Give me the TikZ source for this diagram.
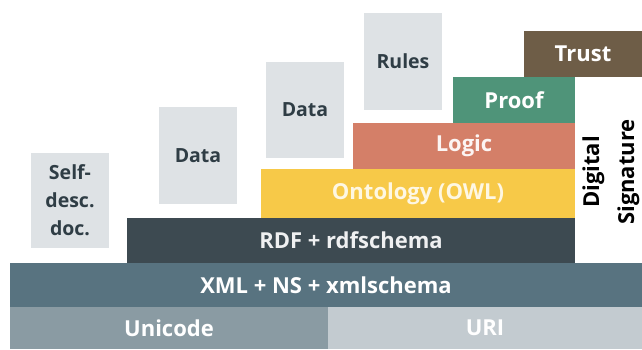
\documentclass[tikz,border=0pt]{standalone}
\usepackage{fontspec}
\setmainfont{Open Sans}
\begin{document}
\begin{tikzpicture}[x=1pt,y=-1pt,
  layer/.style={anchor=north west,inner sep=0pt,outer sep=0pt,text=white,font=\bfseries\fontsize{22}{24}\selectfont},
  graybox/.style={anchor=north west,inner sep=0pt,outer sep=0pt,fill=grayfill,text=darktext,align=center,font=\bfseries\fontsize{19.5}{28}\selectfont}]
\definecolor{grayfill}{HTML}{DEE2E5}
\definecolor{darktext}{HTML}{2F3D45}
\definecolor{unicodec}{HTML}{8A9BA3}
\definecolor{uric}{HTML}{C3CBD0}
\definecolor{xmlc}{HTML}{587380}
\definecolor{rdfc}{HTML}{3D4A51}
\definecolor{ontoc}{HTML}{F7C948}
\definecolor{logicc}{HTML}{D47F68}
\definecolor{proofc}{HTML}{4F9479}
\definecolor{trustc}{HTML}{6E5D47}
\useasboundingbox[fill=white] (0,0) rectangle (642,349);
% gray boxes
\node[graybox,minimum width=78pt,minimum height=95pt] (self) at (31,153) {Self-\\desc.\\doc.};
\node[graybox,minimum width=78pt,minimum height=97pt] (data1) at (159,107) {Data};
\node[graybox,minimum width=78pt,minimum height=96pt] (data2) at (266,62) {Data};
\node[graybox,minimum width=78pt,minimum height=97pt] (rules) at (364,13) {Rules};
% layers
\node[layer,fill=trustc,minimum width=118pt,minimum height=46pt] (trust) at (524,31) {Trust};
\node[layer,fill=proofc,minimum width=122pt,minimum height=46pt] (proof) at (453,77) {Proof};
\node[layer,fill=logicc,text=white!92!logicc,minimum width=222pt,minimum height=46pt] (logic) at (353,123) {Logic};
\node[layer,fill=ontoc,text=white!85!ontoc,minimum width=314pt,minimum height=49pt] (onto) at (261,169) {Ontology (OWL)};
\node[layer,fill=rdfc,text=white!92!rdfc,minimum width=448pt,minimum height=45pt] (rdf) at (127,218) {RDF + rdfschema};
\node[layer,fill=xmlc,minimum width=632pt,minimum height=44pt] (xml) at (10,263) {XML + NS + xmlschema};
\node[layer,fill=unicodec,minimum width=318pt,minimum height=42pt] (unicode) at (10,307) {Unicode};
\node[layer,fill=uric,minimum width=314pt,minimum height=42pt] (uri) at (328,307) {URI};
% digital signature
\node[rotate=90,align=center,text=black,font=\bfseries\fontsize{22}{35}\selectfont] (dsig) at (611,172) {Digital\\Signature};
\end{tikzpicture}
\end{document}
